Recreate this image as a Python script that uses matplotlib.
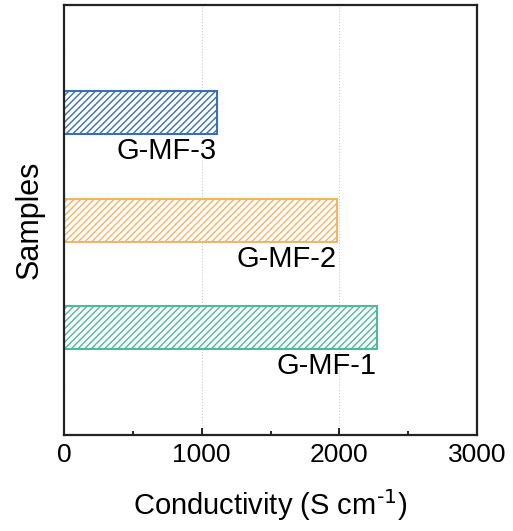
import matplotlib.pyplot as plt
from matplotlib.ticker import MultipleLocator

plt.rcParams['font.family'] = ['Liberation Sans', 'DejaVu Sans']
plt.rcParams['hatch.linewidth'] = 1.0
plt.rcParams['mathtext.default'] = 'regular'

muestras = ['G-MF-1', 'G-MF-2', 'G-MF-3']
conductividad = [2273, 1983, 1109]
colores = ['#4dbb94', '#f5b465', '#3a6fb0']
posiciones = [1, 2, 3]

fig = plt.figure(figsize=(5.13, 5.31), dpi=100)
ax = fig.add_axes([64 / 513, 96 / 531, 413 / 513, 430 / 531])

for y, v, c, nombre in zip(posiciones, conductividad, colores, muestras):
    ax.barh(y, v, height=0.4, color='white', edgecolor=c, hatch='/////', linewidth=1.5)
    # etiqueta debajo de la barra, alineada a la derecha
    ax.text(v, y - 0.23, nombre, ha='right', va='top', fontsize=21)

ax.set_xlim(0, 3000)
ax.set_ylim(0, 4)
ax.xaxis.set_major_locator(MultipleLocator(1000))
ax.xaxis.set_minor_locator(MultipleLocator(500))
ax.set_yticks([])
ax.tick_params(axis='x', which='both', direction='in', labelsize=19, pad=6)
ax.tick_params(axis='x', which='major', length=5, width=1.2)
ax.tick_params(axis='x', which='minor', length=3, width=1.2)
ax.grid(True, axis='x', linestyle=':', color='#cccccc', linewidth=0.8)
ax.set_axisbelow(True)
for s in ax.spines.values():
    s.set_linewidth(1.6)
    s.set_color('#222222')

ax.set_xlabel('Conductivity (S cm$^{\\text{-1}}$)', fontsize=21, labelpad=14)
ax.set_ylabel('Samples', fontsize=22, labelpad=14)

plt.savefig('out.png', dpi=100)
